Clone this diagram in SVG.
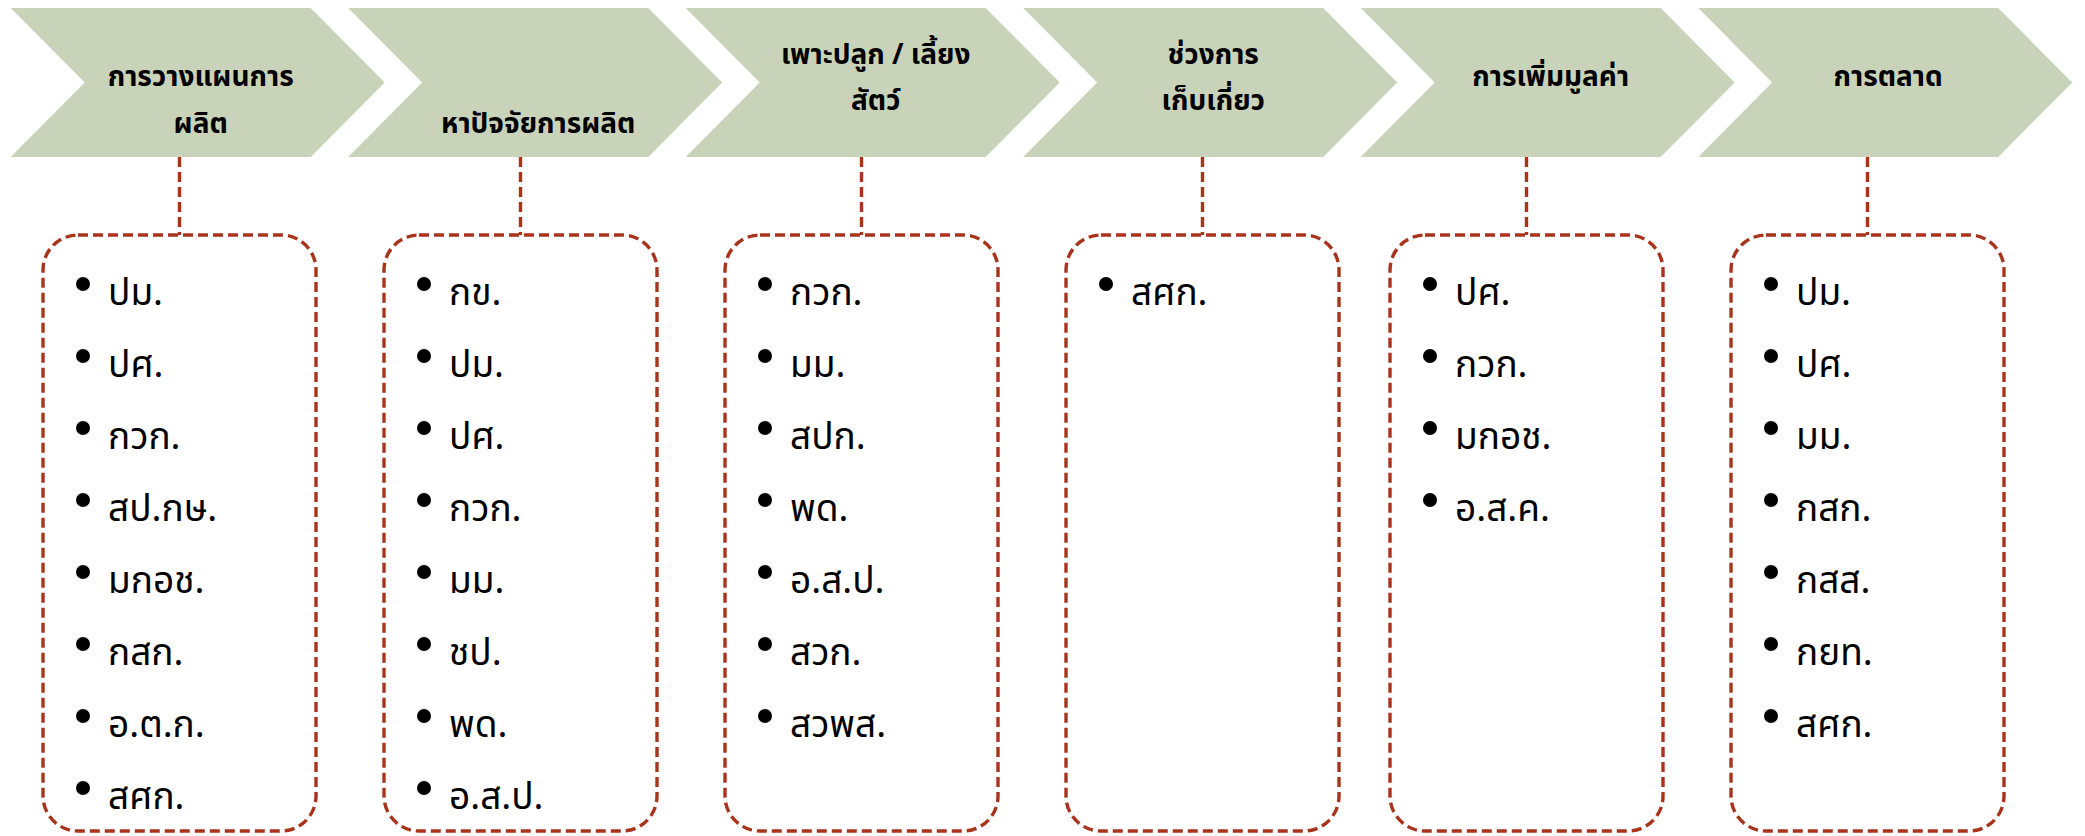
<svg xmlns="http://www.w3.org/2000/svg" width="2085" height="836" viewBox="0 0 2085 836">
<style>
.chev{fill:#C8D3B9;}
.ht{font-family:"Noto Sans Thai","Noto Sans","DejaVu Sans",sans-serif;font-weight:bold;font-size:28px;fill:#000;text-anchor:middle;}
.box{fill:none;stroke:#A8341C;stroke-width:3.4;stroke-dasharray:10 5;}
.con{fill:none;stroke:#A8341C;stroke-width:3.4;stroke-dasharray:10 5;}
.it{font-family:"Noto Sans Thai","Noto Sans","DejaVu Sans",sans-serif;font-size:37px;fill:#000;}
.bul{fill:#000;}
</style>
<rect width="2085" height="836" fill="#fff"/>
<g id="connectors">
<line class="con" x1="179.5" y1="157" x2="179.5" y2="235"/>
<line class="con" x1="520.5" y1="157" x2="520.5" y2="235"/>
<line class="con" x1="861.5" y1="157" x2="861.5" y2="235"/>
<line class="con" x1="1202.5" y1="157" x2="1202.5" y2="235"/>
<line class="con" x1="1526.5" y1="157" x2="1526.5" y2="235"/>
<line class="con" x1="1867.5" y1="157" x2="1867.5" y2="235"/>
</g>
<g id="step1">
<polygon class="chev" points="10.7,8 310.7,8 384.7,82.5 310.7,157 10.7,157 84.7,82.5"/>
<text class="ht" x="200.7" y="86">การวางแผนการ</text>
<text class="ht" x="200.7" y="133">ผลิต</text>
</g>
<g id="step2">
<polygon class="chev" points="348.2,8 648.2,8 722.2,82.5 648.2,157 348.2,157 422.2,82.5"/>
<text class="ht" x="538.2" y="133">หาปัจจัยการผลิต</text>
</g>
<g id="step3">
<polygon class="chev" points="685.7,8 985.7,8 1059.7,82.5 985.7,157 685.7,157 759.7,82.5"/>
<text class="ht" x="875.7" y="64">เพาะปลูก / เลี้ยง</text>
<text class="ht" x="875.7" y="110">สัตว์</text>
</g>
<g id="step4">
<polygon class="chev" points="1023.2,8 1323.2,8 1397.2,82.5 1323.2,157 1023.2,157 1097.2,82.5"/>
<text class="ht" x="1213.2" y="64">ช่วงการ</text>
<text class="ht" x="1213.2" y="110">เก็บเกี่ยว</text>
</g>
<g id="step5">
<polygon class="chev" points="1360.7,8 1660.7,8 1734.7,82.5 1660.7,157 1360.7,157 1434.7,82.5"/>
<text class="ht" x="1550.7" y="86">การเพิ่มมูลค่า</text>
</g>
<g id="step6">
<polygon class="chev" points="1698.2,8 1998.2,8 2072.2,82.5 1998.2,157 1698.2,157 1772.2,82.5"/>
<text class="ht" x="1888.2" y="86">การตลาด</text>
</g>
<g id="list1">
<rect class="box" x="43" y="235" width="273" height="596" rx="35"/>
<circle class="bul" cx="83" cy="284" r="7"/><text class="it" x="108" y="305">ปม.</text>
<circle class="bul" cx="83" cy="356" r="7"/><text class="it" x="108" y="377">ปศ.</text>
<circle class="bul" cx="83" cy="428" r="7"/><text class="it" x="108" y="449">กวก.</text>
<circle class="bul" cx="83" cy="500" r="7"/><text class="it" x="108" y="521">สป.กษ.</text>
<circle class="bul" cx="83" cy="572" r="7"/><text class="it" x="108" y="593">มกอช.</text>
<circle class="bul" cx="83" cy="644" r="7"/><text class="it" x="108" y="665">กสก.</text>
<circle class="bul" cx="83" cy="716" r="7"/><text class="it" x="108" y="737">อ.ต.ก.</text>
<circle class="bul" cx="83" cy="788" r="7"/><text class="it" x="108" y="809">สศก.</text>
</g>
<g id="list2">
<rect class="box" x="384" y="235" width="273" height="596" rx="35"/>
<circle class="bul" cx="424" cy="284" r="7"/><text class="it" x="449" y="305">กข.</text>
<circle class="bul" cx="424" cy="356" r="7"/><text class="it" x="449" y="377">ปม.</text>
<circle class="bul" cx="424" cy="428" r="7"/><text class="it" x="449" y="449">ปศ.</text>
<circle class="bul" cx="424" cy="500" r="7"/><text class="it" x="449" y="521">กวก.</text>
<circle class="bul" cx="424" cy="572" r="7"/><text class="it" x="449" y="593">มม.</text>
<circle class="bul" cx="424" cy="644" r="7"/><text class="it" x="449" y="665">ชป.</text>
<circle class="bul" cx="424" cy="716" r="7"/><text class="it" x="449" y="737">พด.</text>
<circle class="bul" cx="424" cy="788" r="7"/><text class="it" x="449" y="809">อ.ส.ป.</text>
</g>
<g id="list3">
<rect class="box" x="725" y="235" width="273" height="596" rx="35"/>
<circle class="bul" cx="765" cy="284" r="7"/><text class="it" x="790" y="305">กวก.</text>
<circle class="bul" cx="765" cy="356" r="7"/><text class="it" x="790" y="377">มม.</text>
<circle class="bul" cx="765" cy="428" r="7"/><text class="it" x="790" y="449">สปก.</text>
<circle class="bul" cx="765" cy="500" r="7"/><text class="it" x="790" y="521">พด.</text>
<circle class="bul" cx="765" cy="572" r="7"/><text class="it" x="790" y="593">อ.ส.ป.</text>
<circle class="bul" cx="765" cy="644" r="7"/><text class="it" x="790" y="665">สวก.</text>
<circle class="bul" cx="765" cy="716" r="7"/><text class="it" x="790" y="737">สวพส.</text>
</g>
<g id="list4">
<rect class="box" x="1066" y="235" width="273" height="596" rx="35"/>
<circle class="bul" cx="1106" cy="284" r="7"/><text class="it" x="1131" y="305">สศก.</text>
</g>
<g id="list5">
<rect class="box" x="1390" y="235" width="273" height="596" rx="35"/>
<circle class="bul" cx="1430" cy="284" r="7"/><text class="it" x="1455" y="305">ปศ.</text>
<circle class="bul" cx="1430" cy="356" r="7"/><text class="it" x="1455" y="377">กวก.</text>
<circle class="bul" cx="1430" cy="428" r="7"/><text class="it" x="1455" y="449">มกอช.</text>
<circle class="bul" cx="1430" cy="500" r="7"/><text class="it" x="1455" y="521">อ.ส.ค.</text>
</g>
<g id="list6">
<rect class="box" x="1731" y="235" width="273" height="596" rx="35"/>
<circle class="bul" cx="1771" cy="284" r="7"/><text class="it" x="1796" y="305">ปม.</text>
<circle class="bul" cx="1771" cy="356" r="7"/><text class="it" x="1796" y="377">ปศ.</text>
<circle class="bul" cx="1771" cy="428" r="7"/><text class="it" x="1796" y="449">มม.</text>
<circle class="bul" cx="1771" cy="500" r="7"/><text class="it" x="1796" y="521">กสก.</text>
<circle class="bul" cx="1771" cy="572" r="7"/><text class="it" x="1796" y="593">กสส.</text>
<circle class="bul" cx="1771" cy="644" r="7"/><text class="it" x="1796" y="665">กยท.</text>
<circle class="bul" cx="1771" cy="716" r="7"/><text class="it" x="1796" y="737">สศก.</text>
</g>
</svg>
